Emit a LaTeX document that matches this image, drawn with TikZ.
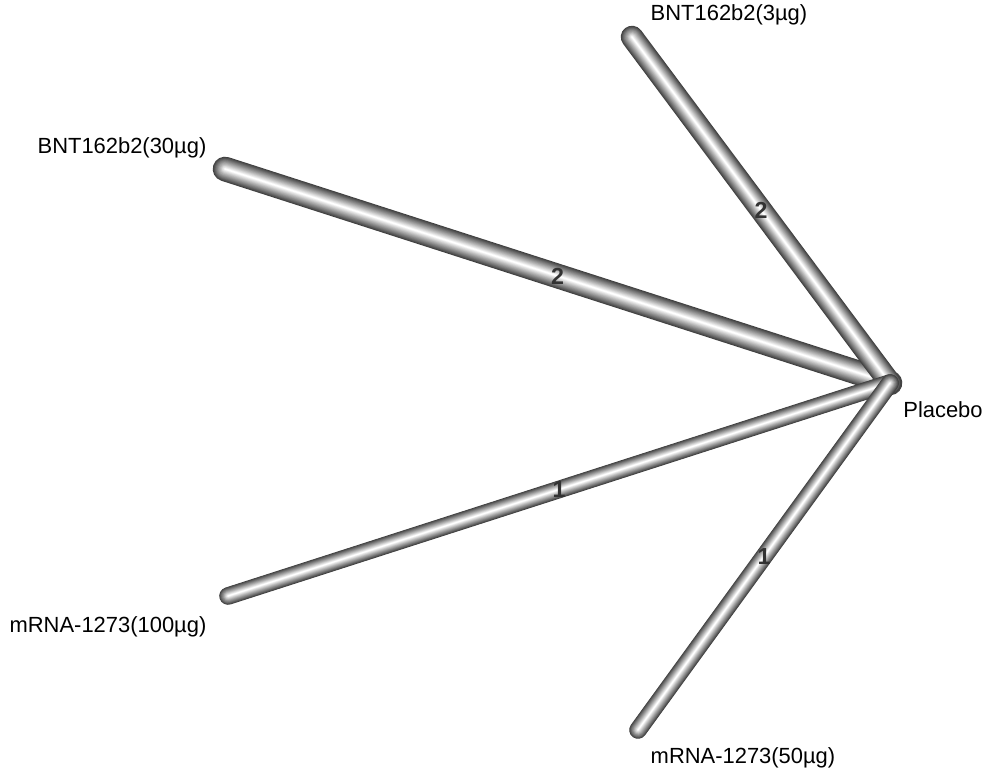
\documentclass[tikz,border=0pt]{standalone}
\usepackage{fontspec}
\setmainfont{Liberation Sans}
\usepackage{tikz}
\usetikzlibrary{positioning}

% shaded tube from one node to another: #1 from, #2 to, #3 width (pt)
\newcommand{\tube}[3]{%
  \foreach \k in {0,...,15}{%
    \pgfmathsetmacro{\tw}{#3*(1-\k/16)}%
    \pgfmathtruncatemacro{\tp}{25+5*\k}%
    \draw[line width=\tw pt, color=white!\tp!black, line cap=round] (#1) -- (#2);
  }%
}

\begin{document}
\begin{tikzpicture}[x=0.025cm, y=-0.025cm]
  \tikzset{lbl/.style={draw=none, inner sep=0pt, text=black, font=\fontsize{15.6}{18}\selectfont}}
  \tikzset{num/.style={lbl, text=black!80, font=\fontsize{16.5}{18}\selectfont\bfseries}}

  \useasboundingbox (0,0) rectangle (984,774);

  % treatment ends
  \coordinate (pbo) at (890,383);
  \coordinate (bnt3) at (632,37);
  \coordinate (bnt30) at (225,169);
  \coordinate (mrna100) at (228,596);
  \coordinate (mrna50) at (638,730);

  \node[lbl] (pbolbl) at (943,410) {Placebo};
  \node[lbl] (bnt3lbl) at (729,15) {BNT162b2(3µg)};
  \node[lbl] (bnt30lbl) at (122,148) {BNT162b2(30µg)};
  \node[lbl] (mrna100lbl) at (108,627) {mRNA-1273(100µg)};
  \node[lbl] (mrna50lbl) at (743,758) {mRNA-1273(50µg)};

  \tube{bnt30}{pbo}{17.5}
  \tube{bnt3}{pbo}{16}
  \tube{mrna100}{pbo}{12.5}
  \tube{mrna50}{pbo}{12.5}

  \path (bnt30) -- node[num] (n1) {2} (pbo);
  \path (bnt3) -- node[num] (n2) {2} (pbo);
  \path (mrna100) -- node[num] (n3) {1} (pbo);
  \path (mrna50) -- node[num] (n4) {1} (pbo);
\end{tikzpicture}
\end{document}
